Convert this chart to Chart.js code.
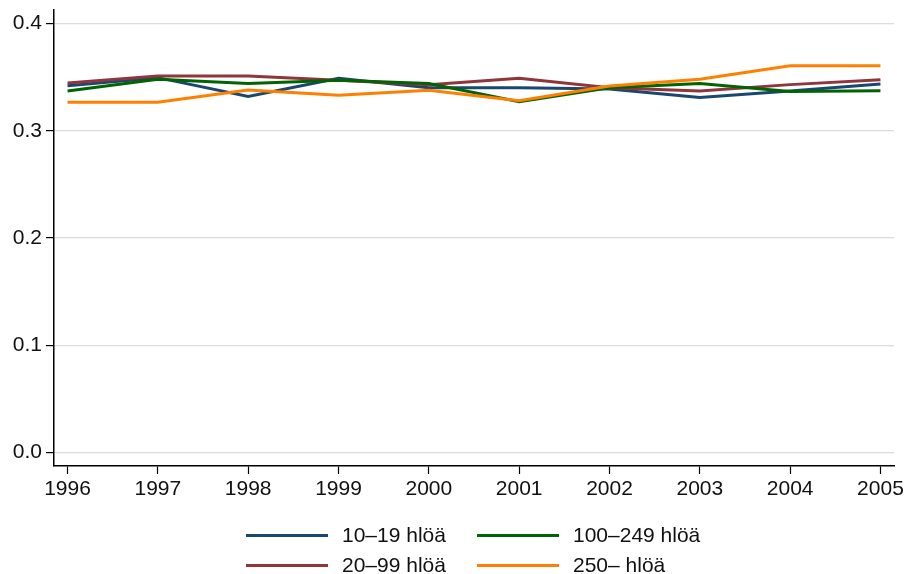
<!DOCTYPE html>
<html>
<head>
<meta charset="utf-8">
<script src="https://cdn.jsdelivr.net/npm/chart.js@4/dist/chart.umd.min.js"></script>
<style>
    html, body { margin: 0; padding: 0; background: #fff; }
    #wrap { position: relative; width: 907px; height: 574px; }
    #legend { position: absolute; left: 0; top: 0; width: 907px; height: 574px; pointer-events: none;
              font-family: "Liberation Sans", Arial, sans-serif; font-size: 21px; color: #111; }
    .item { position: absolute; height: 28px; display: flex; align-items: center; }
    .swatch { width: 82px; height: 3px; margin-right: 14px; }
</style>
</head>
<body>
<div id="wrap">
    <canvas id="chart" width="907" height="574"></canvas>
    <div id="legend"></div>
</div>
<script>
const years = [1996, 1997, 1998, 1999, 2000, 2001, 2002, 2003, 2004, 2005];
const yTicks = [0, 0.1, 0.2, 0.3, 0.4];

const size10to19 = [0.342, 0.3495, 0.332, 0.349, 0.340, 0.340, 0.339, 0.331, 0.337, 0.3435];
const size20to99 = [0.3445, 0.351, 0.351, 0.347, 0.343, 0.349, 0.340, 0.337, 0.343, 0.3476];
const size100to249 = [0.337, 0.348, 0.344, 0.347, 0.344, 0.327, 0.340, 0.344, 0.3365, 0.3374];
const size250plus = [0.3265, 0.3265, 0.338, 0.333, 0.3377, 0.328, 0.3417, 0.348, 0.3607, 0.3607];

const seriesLabels = ['10\u201319 hlöä', '20\u201399 hlöä', '100\u2013249 hlöä', '250\u2013 hlöä'];
const seriesColors = ['#1a476f', '#90353b', '#006400', '#ff8000'];
const seriesValues = [size10to19, size20to99, size100to249, size250plus];

const font = { family: '"Liberation Sans", Arial, sans-serif', size: 21 };

const datasets = seriesValues.map((vals, i) => ({
    label: seriesLabels[i],
    data: vals.map((v, j) => ({ x: years[j], y: v })),
    borderColor: seriesColors[i],
    borderWidth: 3,
    pointRadius: 0,
    tension: 0,
    fill: false,
    order: seriesValues.length - i   // later series on top, like the original
}));

new Chart(document.getElementById('chart').getContext('2d'), {
    type: 'line',
    data: { datasets },
    options: {
        responsive: false,
        animation: false,
        layout: { padding: { top: 10, right: 13, left: 0, bottom: 0 } },
        plugins: { legend: { display: false }, tooltip: { enabled: false } },
        scales: {
            x: {
                type: 'linear',
                min: 1995.85,
                max: 2005.15,
                afterBuildTicks: (s) => { s.ticks = years.map(v => ({ value: v })); },
                afterFit: (s) => { s.height = 108; s.paddingLeft = 0; s.paddingRight = 0; },
                grid: { drawOnChartArea: false, tickLength: 8, tickColor: '#000', tickWidth: 1.2 },
                border: { color: '#000', width: 1.5 },
                ticks: { color: '#111', font, padding: 3, maxRotation: 0, autoSkip: false,
                         callback: (v) => String(v) }
            },
            y: {
                min: -0.0127,
                max: 0.4126,
                afterBuildTicks: (s) => { s.ticks = yTicks.map(v => ({ value: v })); },
                afterFit: (s) => { s.width = 54; s.paddingTop = 0; s.paddingBottom = 0; },
                grid: { color: '#dcdcdc', lineWidth: 1.2, tickLength: 8, tickColor: '#000', tickWidth: 1.2 },
                border: { color: '#000', width: 1.5 },
                ticks: { color: '#111', font, padding: 4, callback: (v) => v.toFixed(1) }
            }
        }
    }
});

// legend in two columns, like the original
const legendPos = [
    { left: 246, top: 521 }, { left: 246, top: 551 },
    { left: 477, top: 521 }, { left: 477, top: 551 }
];
const legendOrder = [0, 1, 2, 3];
const legend = document.getElementById('legend');
legendOrder.forEach((idx, k) => {
    const item = document.createElement('div');
    item.className = 'item';
    item.style.left = legendPos[k].left + 'px';
    item.style.top = legendPos[k].top + 'px';
    item.innerHTML = '<span class="swatch" style="background:' + seriesColors[idx] + '"></span><span>' + seriesLabels[idx] + '</span>';
    legend.appendChild(item);
});
</script>
</body>
</html>
